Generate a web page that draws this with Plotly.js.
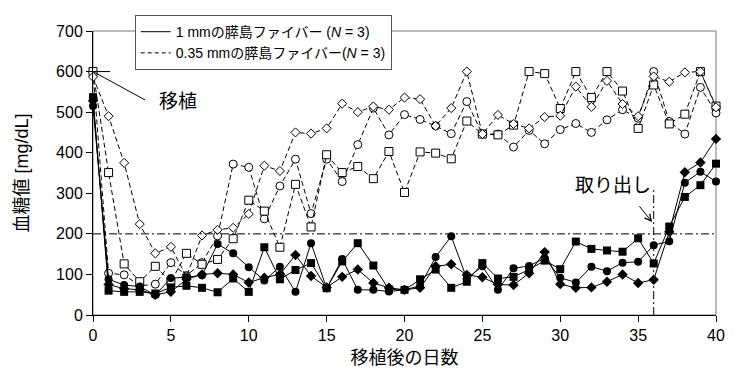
<!DOCTYPE html>
<html>
<head>
<meta charset="utf-8">
<script src="https://cdn.plot.ly/plotly-3.0.1.min.js"></script>
<style>html,body{margin:0;padding:0;background:#fff;}#chart{width:750px;height:383px;}</style>
</head>
<body>
<div id="chart"></div>
<script>
// Days after transplantation
const days = [0,1,2,3,4,5,6,7,8,9,10,11,12,13,14,15,16,17,18,19,20,21,22,23,24,25,26,27,28,29,30,31,32,33,34,35,36,37,38,39,40];

// 1 mm islet fiber (solid lines, filled markers)
const fiber1mm_circle  = [515,88,74,70,49,91,93,98,175,152,118,85,119,57,177,66,138,62,62,58,62,72,143,194,90,120,62,115,121,140,92,80,119,108,129,131,172,182,326,353,329];
const fiber1mm_square  = [537,60,57,57,53,68,72,67,56,90,57,167,88,111,128,66,132,177,122,63,62,88,112,67,82,128,90,94,112,134,113,181,163,159,156,189,127,218,291,320,373];
const fiber1mm_diamond = [528,75,65,62,50,57,88,100,103,100,80,92,100,148,96,68,94,112,79,67,62,67,120,125,99,93,75,74,103,155,76,67,68,82,100,79,87,205,352,376,434];

// 0.35 mm islet fiber (dashed lines, open markers)
const fiber035_circle  = [600,103,99,72,76,129,97,129,195,372,364,237,318,384,250,384,329,420,510,444,494,482,466,447,526,446,446,414,455,422,457,472,450,481,506,485,600,477,446,561,498];
const fiber035_square  = [600,351,126,82,120,82,152,125,137,188,283,256,167,322,217,395,351,366,336,403,302,402,399,385,478,446,444,468,600,595,509,600,536,600,552,460,567,471,495,600,515];
const fiber035_diamond = [587,490,375,224,152,168,95,196,210,215,249,368,355,450,447,460,521,500,514,506,536,532,466,510,600,446,493,471,460,488,491,563,513,577,520,490,588,575,598,600,512];

const xTicks = [0,5,10,15,20,25,30,35,40];
const yTicks = [0,100,200,300,400,500,600,700];
const legendNames = ['1 mmの膵島ファイバー (<i>N</i> = 3)', '0.35 mmの膵島ファイバー(<i>N</i> = 3)'];
const threshold = 200;
const removalDay = 36;

const FONT = 'Liberation Sans, Arial, Noto Sans CJK JP, sans-serif';
const dashPat = '5px,3px';

function openTrace(y, symbol, size) {
  return {x: days, y: y, type: 'scatter', mode: 'lines+markers', showlegend: false, cliponaxis: false,
    line: {color: 'black', width: 1, dash: dashPat},
    marker: {symbol: symbol, size: size, color: 'white', line: {color: 'black', width: 1}}};
}
function solidTrace(y, symbol, size) {
  return {x: days, y: y, type: 'scatter', mode: 'lines+markers', showlegend: false, cliponaxis: false,
    line: {color: 'black', width: 1},
    marker: {symbol: symbol, size: size, color: 'black', line: {color: 'black', width: 0}}};
}

const traces = [
  openTrace(fiber035_circle, 'circle', 8),
  openTrace(fiber035_square, 'square', 8),
  openTrace(fiber035_diamond, 'diamond', 7),
  solidTrace(fiber1mm_circle, 'circle', 8),
  solidTrace(fiber1mm_square, 'square', 8),
  solidTrace(fiber1mm_diamond, 'diamond', 8),
  {x: [null], y: [null], type: 'scatter', mode: 'lines', name: legendNames[0], showlegend: true,
    line: {color: 'black', width: 1}},
  {x: [null], y: [null], type: 'scatter', mode: 'lines', name: legendNames[1], showlegend: true,
    line: {color: 'black', width: 1, dash: '4px,3px'}}
];

const layout = {
  width: 750, height: 383,
  margin: {l: 93, r: 34, t: 31, b: 68},
  paper_bgcolor: 'white', plot_bgcolor: 'white',
  font: {family: FONT, color: 'black', size: 16},
  showlegend: true,
  legend: {x: 0.067, y: 1.056, xanchor: 'left', yanchor: 'top', bgcolor: 'white',
    bordercolor: '#555', borderwidth: 1, font: {size: 14, family: FONT}, itemwidth: 30,
    tracegroupgap: 0},
  xaxis: {range: [0, 40], tickvals: xTicks, ticktext: xTicks.map(String), ticks: 'outside', ticklen: 6,
    tickcolor: 'black', showline: true, linecolor: 'black', linewidth: 1, showgrid: false, zeroline: false,
    tickfont: {size: 16}, automargin: false,
    title: {text: '移植後の日数', font: {size: 18}, standoff: 8}},
  yaxis: {range: [0, 700], tickvals: yTicks, ticktext: yTicks.map(String), ticks: 'outside', ticklen: 6,
    tickcolor: 'black', showline: true, linecolor: 'black', linewidth: 1, showgrid: false, zeroline: false,
    tickfont: {size: 16}, automargin: false,
    title: {text: '血糖値 [mg/dL]', font: {size: 18}, standoff: 22}},
  shapes: [
    {type: 'rect', xref: 'paper', yref: 'paper', x0: 0, x1: 1, y0: 0, y1: 1, layer: 'below',
      line: {color: '#777', width: 1}},
    {type: 'line', xref: 'x', yref: 'y', x0: 0, x1: 40, y0: threshold, y1: threshold,
      line: {color: 'black', width: 1, dash: '8px,3px,2px,3px'}},
    {type: 'line', xref: 'x', yref: 'y', x0: removalDay, x1: removalDay, y0: 0, y1: 310,
      line: {color: 'black', width: 1, dash: '8px,3px,2px,3px'}},
    {type: 'line', xref: 'x', yref: 'y', x0: 0, x1: 3.35, y0: 600, y1: 530,
      line: {color: 'black', width: 1}},
    {type: 'line', xref: 'x', yref: 'y', x0: 0, x1: 1.1, y0: 600, y1: 600,
      line: {color: 'black', width: 1}}
  ],
  annotations: [
    {x: 5.45, y: 527, xref: 'x', yref: 'y', text: '移植', showarrow: false,
      font: {size: 19, family: FONT}, xanchor: 'center', yanchor: 'middle'},
    {x: 33.4, y: 318, xref: 'x', yref: 'y', text: '取り出し', showarrow: false,
      font: {size: 19, family: FONT}, xanchor: 'center', yanchor: 'middle'},
    {x: 35.9, y: 229, xref: 'x', yref: 'y', ax: 35.0, ay: 272, axref: 'x', ayref: 'y',
      text: '', showarrow: true, arrowhead: 5, arrowsize: 1.3, arrowwidth: 1, arrowcolor: 'black'}
  ]
};

Plotly.newPlot('chart', traces, layout, {displayModeBar: false, staticPlot: true});
</script>
</body>
</html>
